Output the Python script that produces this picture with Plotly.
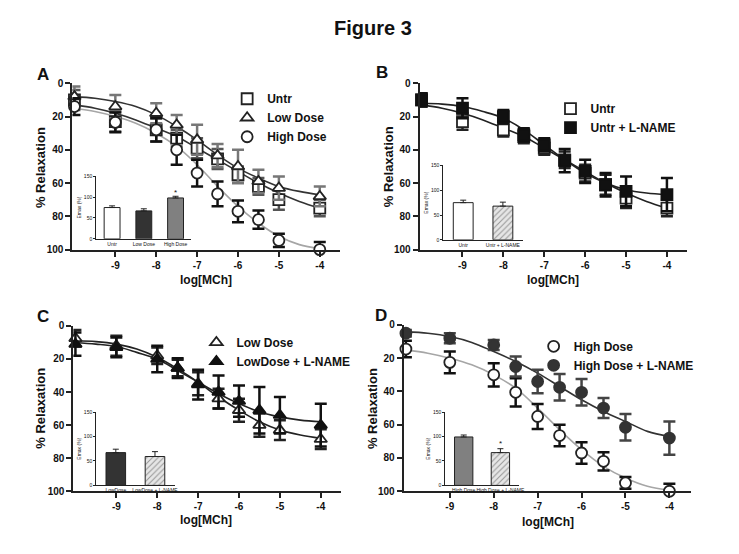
import plotly.graph_objects as go

W, H = 739, 554

# ---------------- data ----------------
LOG_MCH = [-10, -9, -8, -7.5, -7, -6.5, -6, -5.5, -5, -4]
CURVE_X = [-10, -9.5, -9, -8.5, -8, -7.5, -7, -6.5, -6, -5.5, -5, -4.5, -4]
X_TICKS = [-9, -8, -7, -6, -5, -4]
X_TICK_TEXT = ["-9", "-8", "-7", "-6", "-5", "-4"]
Y_TICKS = [0, 20, 40, 60, 80, 100]

# Panel A
A_UNTR = [10, 23, 28, 33, 39, 45.5, 55, 62, 70, 75]
A_UNTR_ERR = [6, 6, 7, 5, 6, 6, 5, 5, 6, 5]
A_LOW = [8, 14, 18, 25, 34, 43.5, 50, 59, 63, 68]
A_LOW_ERR = [6, 7, 6, 6, 9, 7, 10, 7, 7, 6]
A_HIGH = [14, 23.5, 28, 40, 54, 66.5, 77, 82, 94.5, 100]
A_HIGH_ERR = [5, 6, 7, 9, 8, 7.5, 6.5, 5.5, 4, 4.5]
A_UNTR_FIT = [13, 15, 18, 22, 27, 32, 39, 46, 53, 60, 66, 71, 75]
A_LOW_FIT = [8, 9, 11, 14, 19, 26, 34, 43, 51, 57, 62, 65, 67]
A_HIGH_FIT = [15, 17, 20, 24, 30, 38, 49, 62, 74, 84, 92, 97, 99.5]

# Panel B
B_UNTR = [10, 23, 28, 32, 39, 46, 54, 61, 69, 75]
B_UNTR_ERR = [4, 5, 4, 4, 4, 5, 5, 6, 6, 5]
B_LN = [10, 15, 20, 31, 37, 46.5, 53, 61, 65, 67]
B_LN_ERR = [4, 6, 4, 4, 4, 7, 7, 7, 9, 10]
B_UNTR_FIT = [13, 15, 18, 22, 27, 32, 39, 46, 53, 60, 66, 71, 75]
B_LN_FIT = [12, 12.5, 14, 17, 21, 28, 37, 46, 54, 60, 64, 66, 67]

# Panel C
C_LOW = [7.5, 12, 18, 25.5, 35, 44, 51, 60, 63, 68.5]
C_LOW_ERR = [5, 6, 5, 5, 7, 6, 7, 7, 6, 6]
C_LN = [11, 13, 20, 25.5, 35.5, 40, 45.5, 51, 54, 60]
C_LN_ERR = [7, 6, 8, 6, 9, 10, 9.5, 14, 11, 13]
C_LOW_FIT = [9, 9.5, 11, 14, 19, 26, 34, 43, 51, 58, 63, 66, 68]
C_LN_FIT = [10, 11, 12.5, 16, 20, 27, 34, 41, 47, 52, 55, 57, 58]

# Panel D
D_HIGH = [14.5, 22.5, 30, 40.5, 55, 66.5, 77, 82, 95, 100]
D_HIGH_ERR = [5, 6.5, 7, 8.5, 7.5, 6.5, 6.5, 5.5, 3.5, 4.5]
D_LN = [5, 8, 12, 25, 34, 37.5, 40.5, 50, 61.5, 68]
D_LN_ERR = [2, 3, 3, 6, 7, 8, 8, 6, 8, 10]
D_HIGH_FIT = [15, 17, 20, 24, 30, 38, 50, 63, 75, 85, 92, 97, 99.5]
D_LN_FIT = [4, 5, 7, 10.5, 16, 22, 29, 37, 45, 52, 58, 64, 67]

# Insets (Emax %)
A_BAR_CATS = ["Untr", "Low Dose", "High Dose"]
A_BAR = [75, 67, 98]
A_BAR_ERR = [4, 5, 4]
B_BAR_CATS = ["Untr", "Untr + L-NAME"]
B_BAR = [75, 68]
B_BAR_ERR = [5, 8]
C_BAR_CATS = ["LowDose", "LowDose + L-NAME"]
C_BAR = [67, 59]
C_BAR_ERR = [7, 10]
D_BAR_CATS = ["High Dose", "High Dose + L-NAME"]
D_BAR = [99, 67]
D_BAR_ERR = [4, 8]
INSET_TICKS = [0, 50, 100, 150]

# ---------------- helpers ----------------
FONT = "Liberation Sans, Arial, sans-serif"
DARK = "#222222"


def xd(a, b):
    return [a / W, b / W]


def yd(top, bottom):
    return [1 - bottom / H, 1 - top / H]


fig = go.Figure()


def curve(xa, ya, y, color):
    fig.add_trace(go.Scatter(x=CURVE_X, y=y, mode="lines", xaxis=xa, yaxis=ya,
                             line=dict(color=color, width=1.6, shape="spline", smoothing=1),
                             showlegend=False, hoverinfo="skip", cliponaxis=False))


def points(xa, ya, y, err, name, symbol, fill, edge, ecolor, legend):
    fig.add_trace(go.Scatter(x=LOG_MCH, y=y, mode="markers", name=name, xaxis=xa, yaxis=ya,
                             marker=dict(symbol=symbol, size=11, color=fill,
                                         line=dict(color=edge, width=1.8)),
                             error_y=dict(type="data", array=err, color=ecolor,
                                          thickness=2.5, width=6),
                             legend=legend, cliponaxis=False))


def bars(xa, ya, cats, vals, errs, colors, patterns):
    fig.add_trace(go.Bar(x=cats, y=vals, xaxis=xa, yaxis=ya, width=0.5,
                         marker=dict(color=colors, line=dict(color=DARK, width=1),
                                     pattern=dict(shape=patterns, fgcolor="#aaaaaa",
                                                  bgcolor="#e6e6e6", size=4, solidity=0.25)),
                         error_y=dict(type="data", symmetric=False, array=errs,
                                      arrayminus=[0] * len(errs), color=DARK,
                                      thickness=1, width=3),
                         showlegend=False, hoverinfo="skip"))


# Panel A
curve("x", "y", A_UNTR_FIT, "#333333")
curve("x", "y", A_LOW_FIT, "#333333")
curve("x", "y", A_HIGH_FIT, "#a6a6a6")
points("x", "y", A_UNTR, A_UNTR_ERR, "Untr", "square", "white", DARK, "#555555", "legend")
points("x", "y", A_LOW, A_LOW_ERR, "Low Dose", "triangle-up", "white", DARK, "#777777", "legend")
points("x", "y", A_HIGH, A_HIGH_ERR, "High Dose", "circle", "white", DARK, "#111111", "legend")

# Panel B
curve("x2", "y2", B_UNTR_FIT, "#222222")
curve("x2", "y2", B_LN_FIT, "#222222")
points("x2", "y2", B_UNTR, B_UNTR_ERR, "Untr", "square", "white", DARK, "#222222", "legend2")
points("x2", "y2", B_LN, B_LN_ERR, "Untr + L-NAME", "square", "#111111", "#111111", "#111111", "legend2")

# Panel C
curve("x3", "y3", C_LOW_FIT, "#222222")
curve("x3", "y3", C_LN_FIT, "#222222")
points("x3", "y3", C_LOW, C_LOW_ERR, "Low Dose", "triangle-up", "white", DARK, "#222222", "legend3")
points("x3", "y3", C_LN, C_LN_ERR, "LowDose + L-NAME", "triangle-up", "#111111", "#111111", "#111111", "legend3")

# Panel D
curve("x4", "y4", D_HIGH_FIT, "#a6a6a6")
curve("x4", "y4", D_LN_FIT, "#333333")
points("x4", "y4", D_HIGH, D_HIGH_ERR, "High Dose", "circle", "white", DARK, "#111111", "legend4")
points("x4", "y4", D_LN, D_LN_ERR, "High Dose + L-NAME", "circle", "#333333", "#333333", "#444444", "legend4")

# Insets
bars("x5", "y5", A_BAR_CATS, A_BAR, A_BAR_ERR, ["white", "#333333", "#808080"], ["", "", ""])
bars("x6", "y6", B_BAR_CATS, B_BAR, B_BAR_ERR, ["white", "#e6e6e6"], ["", "/"])
bars("x7", "y7", C_BAR_CATS, C_BAR, C_BAR_ERR, ["#333333", "#e6e6e6"], ["", "/"])
bars("x8", "y8", D_BAR_CATS, D_BAR, D_BAR_ERR, ["#808080", "#e6e6e6"], ["", "/"])

main_x = dict(range=[-10.05, -3.5], tickvals=X_TICKS, ticktext=X_TICK_TEXT,
              showline=True, linecolor=DARK, linewidth=2, ticks="outside", ticklen=5,
              tickwidth=2, tickcolor=DARK, showgrid=False, zeroline=False,
              tickfont=dict(family=FONT, size=10, color="#111", weight="bold"))
main_y = dict(range=[100, 0], tickvals=Y_TICKS, showline=True, linecolor=DARK, linewidth=2,
              ticks="outside", ticklen=5, tickwidth=2, tickcolor=DARK, showgrid=False,
              zeroline=False, tickfont=dict(family=FONT, size=10, color="#111", weight="bold"))
ins_x = dict(type="category", showline=True, linecolor=DARK, linewidth=1, ticks="",
             showgrid=False, zeroline=False, tickangle=0,
             tickfont=dict(family=FONT, size=5, color="#111"))
ins_y = dict(range=[0, 150], tickvals=INSET_TICKS, showline=True, linecolor=DARK, linewidth=1,
             ticks="outside", ticklen=2, tickwidth=1, tickcolor=DARK, showgrid=False,
             zeroline=False, tickfont=dict(family=FONT, size=5, color="#111"),
             title=dict(text="Emax (%)", font=dict(family=FONT, size=5, color="#111"), standoff=2))

legend_style = dict(bgcolor="rgba(0,0,0,0)", font=dict(family=FONT, size=12, color="#111", weight="bold"),
                    xanchor="left", yanchor="top", itemsizing="trace", tracegroupgap=0)

fig.update_layout(
    width=W, height=H, autosize=False, margin=dict(l=0, r=0, t=0, b=0),
    paper_bgcolor="white", plot_bgcolor="rgba(0,0,0,0)",
    xaxis=dict(main_x, domain=xd(73, 343), anchor="y"),
    yaxis=dict(main_y, domain=yd(79, 249), anchor="x"),
    xaxis2=dict(main_x, domain=xd(423, 693), anchor="y2"),
    yaxis2=dict(main_y, domain=yd(79, 249), anchor="x2"),
    xaxis3=dict(main_x, domain=xd(74, 344), anchor="y3"),
    yaxis3=dict(main_y, domain=yd(327, 496), anchor="x3"),
    xaxis4=dict(main_x, domain=xd(407, 697), anchor="y4"),
    yaxis4=dict(main_y, domain=yd(326, 496), anchor="x4"),
    xaxis5=dict(ins_x, domain=xd(97, 193), anchor="y5", range=[-0.5, 2.5]),
    yaxis5=dict(ins_y, domain=yd(174, 238), anchor="x5"),
    xaxis6=dict(ins_x, domain=xd(447, 527), anchor="y6", range=[-0.5, 1.5]),
    yaxis6=dict(ins_y, domain=yd(163, 239), anchor="x6"),
    xaxis7=dict(ins_x, domain=xd(97, 176), anchor="y7", range=[-0.5, 1.5]),
    yaxis7=dict(ins_y, domain=yd(415, 490), anchor="x7"),
    xaxis8=dict(ins_x, domain=xd(449, 523), anchor="y8", range=[-0.5, 1.5]),
    yaxis8=dict(ins_y, domain=yd(415, 490), anchor="x8"),
    showlegend=True,
    legend=dict(legend_style, x=229 / W, y=1 - 80 / H),
    legend2=dict(legend_style, x=555 / W, y=1 - 90 / H),
    legend3=dict(legend_style, x=198 / W, y=1 - 329 / H),
    legend4=dict(legend_style, x=538 / W, y=1 - 333 / H),
)

ann = []


def text_ann(txt, px, py, size, angle=0, bold=True):
    f = dict(family=FONT, size=size, color="#111")
    if bold:
        f["weight"] = "bold"
    ann.append(dict(text=txt, x=px / W, y=1 - py / H, xref="paper", yref="paper",
                    xanchor="center", yanchor="middle", showarrow=False, textangle=angle, font=f))


text_ann("Figure 3", 376, 22, 20)
for lab, px, py in [("A", 43, 70), ("B", 385, 68), ("C", 43, 317), ("D", 384, 316)]:
    text_ann(lab, px, py, 17)
for px, py in [(41, 165), (392, 164), (40, 411), (375, 411)]:
    text_ann("% Relaxation", px, py, 13, angle=-90)
for px, py in [(208, 280), (558, 280), (208, 525), (552, 527)]:
    text_ann("log[MCh]", px, py, 12)

# significance marks in insets
ann.append(dict(text="*", x=A_BAR_CATS[2], y=A_BAR[2] + A_BAR_ERR[2] + 10, xref="x5", yref="y5",
                showarrow=False, font=dict(family=FONT, size=8, color="#111")))
ann.append(dict(text="*", x=D_BAR_CATS[1], y=D_BAR[1] + D_BAR_ERR[1] + 10, xref="x8", yref="y8",
                showarrow=False, font=dict(family=FONT, size=8, color="#111")))
fig.update_layout(annotations=ann)

fig.write_html("out.html", config={"displayModeBar": False},
               post_script="document.body.style.margin='0px';")
